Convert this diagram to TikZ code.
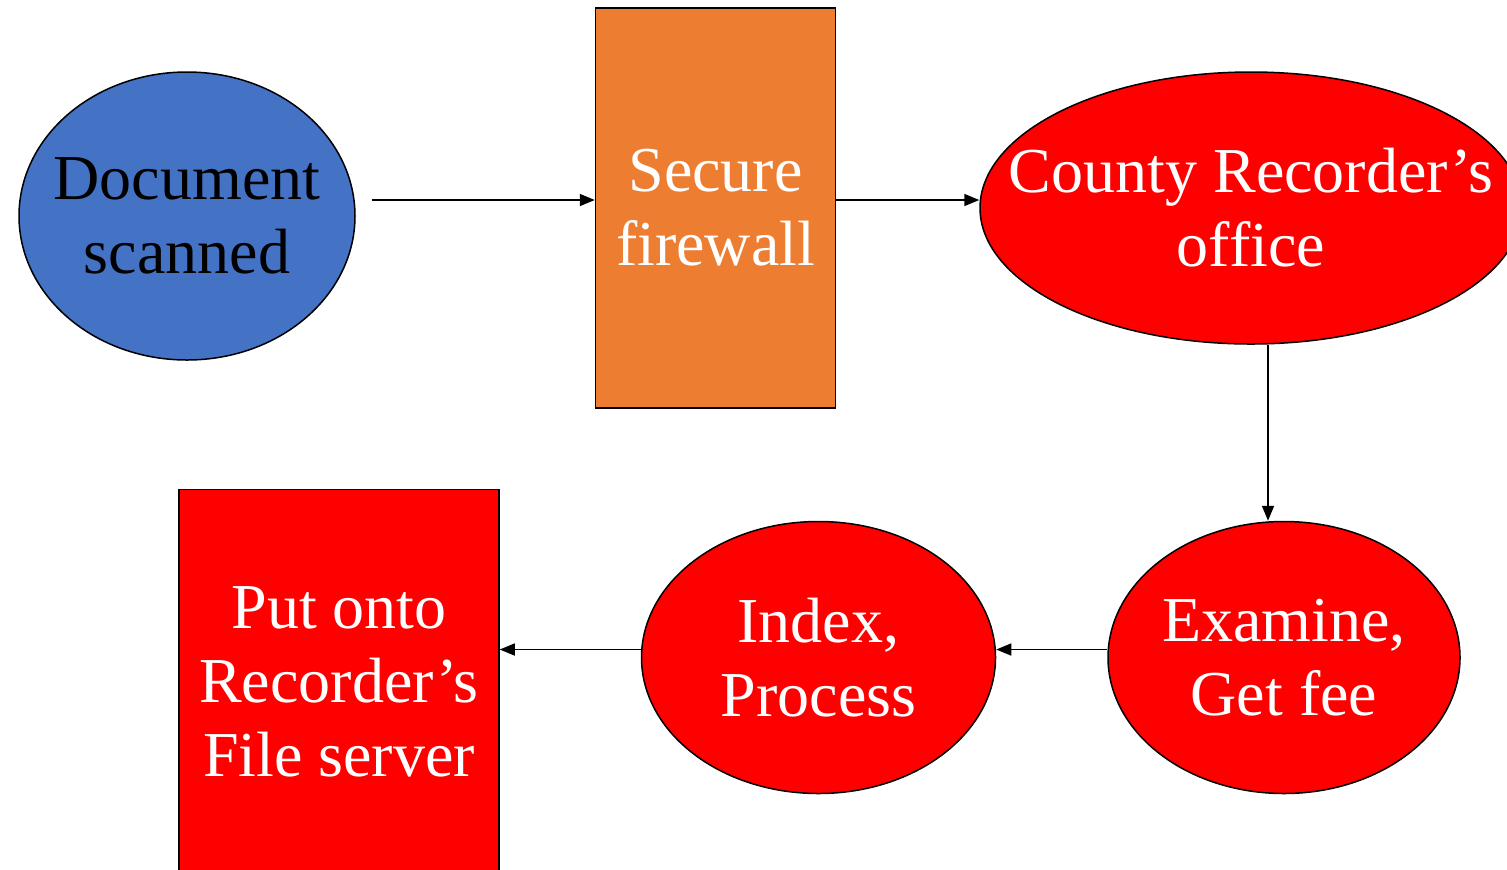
\documentclass[tikz,border=0pt]{standalone}
\usepackage{fontspec}
\setmainfont{Liberation Serif}
\usetikzlibrary{positioning, shapes.geometric, arrows.meta}
\definecolor{scanblue}{HTML}{4472C4}
\definecolor{wallorange}{HTML}{ED7D31}
\definecolor{officered}{HTML}{FF0000}
\begin{document}
\begin{tikzpicture}[every node/.style={draw,line width=0.75pt,align=center,text=white,font=\rmfamily\fontsize{32}{37}\selectfont},
  oval/.style={ellipse,inner sep=-40pt},
  box/.style={rectangle,inner sep=0pt},
  flow/.style={-{Triangle[length=7.5pt,width=6pt]},line width=0.8pt}]
  \useasboundingbox (0,0) rectangle (753.5pt,-434.5pt);
  \clip (0,0) rectangle (753.5pt,-434.5pt);
  \node(scan)[oval,fill=scanblue,text=black,minimum width=168pt,minimum height=144pt] at (93.5pt,-108pt) {Document\\scanned};
  \node(firewall)[box,fill=wallorange,minimum width=120pt,minimum height=200pt,right=119.5pt of scan,yshift=4pt] {Secure\\firewall};
  \node(county)[oval,fill=officered,minimum width=271pt,minimum height=136pt,right=71.5pt of firewall] {County Recorder’s\\office};
%
  \node(examine)[oval,fill=officered,minimum width=176pt,minimum height=136pt,below=88pt of county,xshift=16.5pt] {Examine,\\Get fee};
  \node(index)[oval,fill=officered,minimum width=177pt,minimum height=136pt,left=55.5pt of examine] {Index,\\Process};
  \node(server)[box,fill=officered,minimum width=160pt,minimum height=192pt,left=70.5pt of index,yshift=-12pt] {Put onto\\Recorder’s\\File server};
%
\draw[flow]([shift={(8pt,8pt)}]scan.east)--([yshift=4pt]firewall.west);
\draw[flow]([yshift=4pt]firewall.east)--([yshift=4pt]county.west);
\draw[flow]([xshift=8.5pt]county.south)--([xshift=-8pt]examine.north);
\draw[flow]([yshift=4pt]examine.west)--([yshift=4pt]index.east);
\draw[flow]([yshift=4pt]index.west)--([yshift=16pt]server.east);
\end{tikzpicture}
\end{document}
